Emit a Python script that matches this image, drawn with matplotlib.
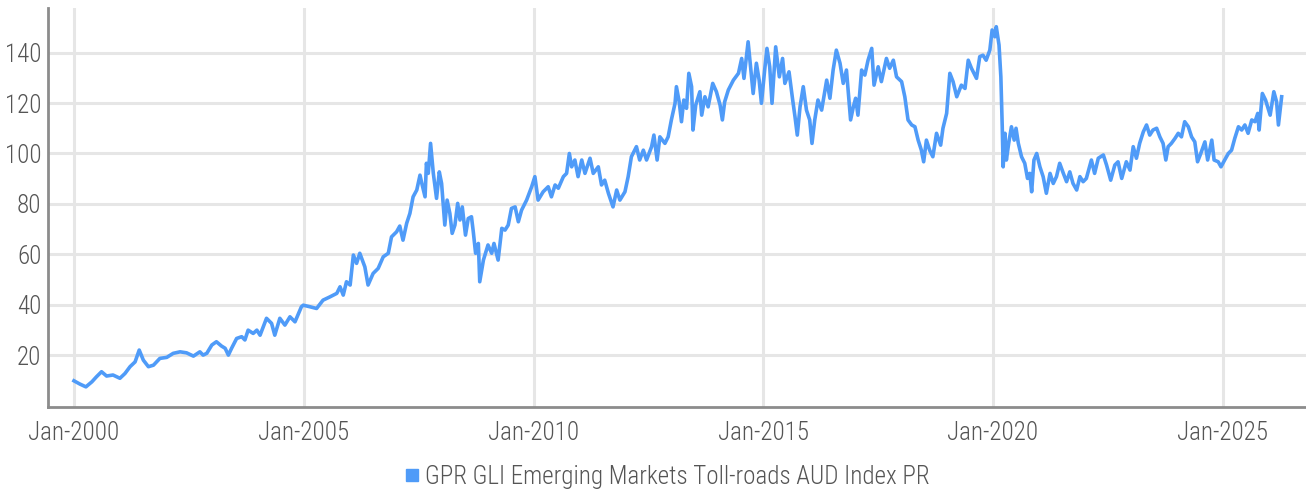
import numpy as np
import pandas as pd
import matplotlib
matplotlib.use("Agg")
import matplotlib.pyplot as plt
import matplotlib.dates as mdates
from matplotlib.lines import Line2D
from matplotlib import font_manager

# index level (decimal year, value)
t_2000_2005 = [2000.00, 2000.13, 2000.26, 2000.39, 2000.49, 2000.60, 2000.71, 2000.85, 2001.00, 2001.11,
               2001.22, 2001.33, 2001.42, 2001.51, 2001.62, 2001.73, 2001.87, 2002.02, 2002.16, 2002.31,
               2002.45, 2002.60, 2002.74, 2002.81, 2002.89, 2003.00, 2003.10, 2003.21, 2003.29, 2003.36,
               2003.43, 2003.54, 2003.65, 2003.72, 2003.79, 2003.90, 2003.98, 2004.05, 2004.19, 2004.30,
               2004.37, 2004.48, 2004.59, 2004.70, 2004.81, 2004.95]
v_2000_2005 = [9.8, 8.5, 7.4, 9.4, 11.4, 13.4, 11.7, 12.1, 10.8, 12.7,
               15.4, 17.3, 22.0, 18.0, 15.4, 16.0, 18.7, 19.1, 20.7, 21.3,
               20.9, 19.6, 21.3, 20.0, 20.7, 24.0, 25.3, 23.6, 22.7, 20.0,
               22.7, 26.6, 27.3, 26.0, 29.9, 28.6, 29.9, 27.9, 34.6, 32.6,
               27.9, 34.6, 31.9, 35.2, 33.2, 39.2]

t_2005_2010 = [2004.99, 2005.13, 2005.28, 2005.42, 2005.57, 2005.72, 2005.79, 2005.86, 2005.93, 2006.01,
               2006.08, 2006.15, 2006.22, 2006.33, 2006.40, 2006.51, 2006.62, 2006.73, 2006.84, 2006.91,
               2007.02, 2007.09, 2007.16, 2007.24, 2007.31, 2007.38, 2007.46, 2007.53, 2007.57, 2007.64,
               2007.67, 2007.71, 2007.76, 2007.82, 2007.89, 2007.95, 2008.00, 2008.07, 2008.12, 2008.18,
               2008.23, 2008.29, 2008.35, 2008.40, 2008.45, 2008.52, 2008.58, 2008.65, 2008.69, 2008.74,
               2008.80, 2008.83, 2008.91, 2009.01, 2009.09, 2009.14, 2009.23, 2009.31, 2009.38, 2009.45,
               2009.52, 2009.60, 2009.67, 2009.74, 2009.85, 2009.96]
v_2005_2010 = [39.8, 39.2, 38.5, 41.8, 43.1, 44.5, 47.1, 43.8, 49.1, 47.8,
               59.7, 56.4, 60.4, 55.0, 47.8, 52.4, 54.4, 59.0, 60.4, 66.9,
               68.9, 71.2, 65.6, 72.3, 76.2, 82.8, 85.5, 91.4, 88.1, 82.8,
               96.1, 92.1, 104.0, 92.1, 82.2, 92.7, 88.1, 71.6, 81.5, 76.2,
               68.3, 71.6, 80.2, 73.6, 78.8, 67.6, 74.2, 74.9, 68.9, 60.4,
               64.3, 49.1, 57.7, 63.7, 60.4, 64.3, 57.7, 70.3, 69.6, 71.6,
               78.2, 78.8, 72.9, 77.5, 81.5, 86.8]

t_2010_2015 = [2010.03, 2010.10, 2010.21, 2010.32, 2010.39, 2010.47, 2010.54, 2010.65, 2010.72, 2010.78,
               2010.83, 2010.90, 2010.97, 2011.05, 2011.12, 2011.23, 2011.30, 2011.41, 2011.48, 2011.55,
               2011.63, 2011.73, 2011.81, 2011.88, 2011.99, 2012.06, 2012.13, 2012.24, 2012.31, 2012.39,
               2012.46, 2012.57, 2012.62, 2012.69, 2012.75, 2012.86, 2012.93, 2013.00, 2013.08, 2013.11,
               2013.17, 2013.22, 2013.27, 2013.33, 2013.38, 2013.44, 2013.47, 2013.53, 2013.62, 2013.66,
               2013.73, 2013.80, 2013.90, 2013.98, 2014.06, 2014.11, 2014.16, 2014.24, 2014.35, 2014.46,
               2014.53, 2014.58, 2014.67]
v_2010_2015 = [90.8, 81.5, 84.8, 86.8, 82.8, 87.5, 86.2, 90.8, 92.1, 100.0,
               94.7, 97.4, 90.8, 97.4, 92.1, 98.1, 92.1, 94.7, 87.5, 89.4,
               84.2, 78.8, 85.5, 81.5, 84.8, 90.8, 98.7, 102.7, 97.4, 101.3,
               97.4, 102.7, 107.3, 97.4, 106.6, 104.0, 106.6, 113.3, 119.9, 126.5,
               120.5, 112.6, 121.2, 117.9, 131.8, 126.5, 109.3, 119.2, 124.5, 115.2,
               122.5, 118.5, 127.8, 124.5, 119.2, 113.3, 120.5, 125.2, 129.1, 131.8,
               137.7, 129.8, 144.3]

t_2015_2020 = [2014.71, 2014.78, 2014.85, 2014.91, 2014.96, 2015.03, 2015.08, 2015.14, 2015.19, 2015.27,
               2015.35, 2015.42, 2015.47, 2015.56, 2015.64, 2015.69, 2015.74, 2015.80, 2015.87, 2015.94,
               2016.01, 2016.06, 2016.12, 2016.19, 2016.27, 2016.38, 2016.45, 2016.52, 2016.59, 2016.67,
               2016.74, 2016.81, 2016.90, 2016.96, 2017.01, 2017.06, 2017.14, 2017.21, 2017.28, 2017.36,
               2017.41, 2017.50, 2017.57, 2017.68, 2017.75, 2017.83, 2017.90, 2018.01, 2018.08, 2018.15,
               2018.23, 2018.30, 2018.37, 2018.44, 2018.49, 2018.55, 2018.62, 2018.69, 2018.77, 2018.86,
               2018.91, 2018.99, 2019.06, 2019.13, 2019.21, 2019.31, 2019.39, 2019.46, 2019.53, 2019.64,
               2019.71, 2019.78, 2019.85, 2019.93, 2019.98, 2020.04, 2020.07, 2020.13, 2020.17, 2020.20,
               2020.22]
v_2015_2020 = [137.0, 123.8, 135.8, 129.1, 119.9, 133.1, 141.7, 134.4, 119.9, 142.3,
               130.4, 137.7, 127.8, 132.4, 121.2, 114.6, 107.3, 118.5, 126.5, 117.2,
               113.3, 104.0, 113.3, 121.2, 117.2, 129.1, 121.9, 133.1, 141.0, 135.8,
               127.8, 133.1, 113.3, 118.5, 121.9, 115.2, 133.1, 131.1, 137.0, 141.7,
               127.1, 134.4, 128.5, 137.7, 133.8, 137.0, 130.4, 128.5, 122.5, 113.3,
               111.3, 110.6, 105.3, 101.3, 96.7, 105.3, 101.3, 98.7, 108.0, 103.3,
               110.0, 115.9, 131.8, 128.5, 122.5, 127.1, 125.8, 137.0, 133.8, 129.8,
               138.4, 139.0, 137.0, 141.0, 149.0, 146.3, 150.3, 143.0, 130.4, 110.6,
               94.7]

t_2020_2026 = [2020.26, 2020.29, 2020.34, 2020.40, 2020.46, 2020.50, 2020.55, 2020.62, 2020.69, 2020.75,
               2020.80, 2020.84, 2020.89, 2020.95, 2021.02, 2021.09, 2021.16, 2021.24, 2021.31, 2021.38,
               2021.45, 2021.53, 2021.60, 2021.67, 2021.74, 2021.82, 2021.89, 2021.96, 2022.03, 2022.14,
               2022.21, 2022.29, 2022.40, 2022.47, 2022.56, 2022.65, 2022.72, 2022.80, 2022.90, 2022.98,
               2023.05, 2023.12, 2023.19, 2023.27, 2023.34, 2023.41, 2023.48, 2023.56, 2023.63, 2023.70,
               2023.76, 2023.81, 2023.88, 2023.96, 2024.03, 2024.10, 2024.17, 2024.25, 2024.32, 2024.39,
               2024.45, 2024.52, 2024.61, 2024.67, 2024.76, 2024.81, 2024.90, 2024.96, 2025.04, 2025.12,
               2025.19, 2025.26, 2025.34, 2025.41, 2025.48, 2025.55, 2025.63, 2025.70, 2025.76, 2025.79,
               2025.86, 2025.93, 2026.03, 2026.11, 2026.17, 2026.21, 2026.28]
v_2020_2026 = [108.0, 97.4, 104.0, 110.6, 105.3, 110.0, 104.0, 98.7, 96.1, 90.1,
               92.1, 84.8, 97.4, 100.0, 94.7, 90.8, 84.2, 92.1, 88.1, 90.8,
               96.1, 92.1, 88.8, 92.7, 88.1, 85.5, 90.8, 88.8, 90.1, 97.4,
               92.1, 98.1, 99.4, 95.4, 89.4, 95.4, 96.7, 90.1, 96.7, 93.4,
               102.7, 98.1, 104.0, 108.6, 111.3, 107.3, 109.3, 110.0, 106.6, 104.0,
               97.4, 102.7, 104.0, 106.0, 108.0, 106.6, 112.6, 110.6, 106.6, 104.6,
               96.7, 100.0, 104.6, 97.4, 105.3, 97.4, 96.7, 94.7, 97.4, 100.0,
               101.3, 106.0, 110.6, 109.3, 111.3, 108.0, 113.3, 112.6, 115.9, 109.3,
               123.8, 121.2, 115.2, 124.5, 120.5, 111.3, 122.5]

series_name = "GPR GLI Emerging Markets Toll-roads AUD Index PR"
y_ticks = [20, 40, 60, 80, 100, 120, 140]

years = np.array(t_2000_2005 + t_2005_2010 + t_2010_2015 + t_2015_2020 + t_2020_2026)
values = np.array(v_2000_2005 + v_2005_2010 + v_2010_2015 + v_2015_2020 + v_2020_2026)

# the original uses a narrow font; take a condensed one if there is one
installed = {f.name for f in font_manager.fontManager.ttflist}
if "Roboto Condensed" in installed:
    font_list, fs, fw = ["Roboto Condensed", "DejaVu Sans"], 18, "light"
elif "Liberation Sans Narrow" in installed:
    font_list, fs, fw = ["Liberation Sans Narrow", "DejaVu Sans"], 18, "normal"
else:
    font_list, fs, fw = ["Roboto", "DejaVu Sans"], 14, "light"
plt.rcParams["font.family"] = font_list
plt.rcParams["font.weight"] = fw


def to_date(yr):
    return pd.Timestamp("2000-01-01") + pd.to_timedelta((np.asarray(yr) - 2000) * 365.25, unit="D")


dates = to_date(years)

blue = "#4f9bf8"
grid_c = "#e6e6e6"
text_c = "#555555"

fig = plt.figure(figsize=(13.06, 4.93), dpi=100)
ax = fig.add_axes([0.0371, 0.1744, 0.9629, 0.8093])

ax.plot(dates, values, color=blue, lw=2.6, solid_joinstyle="round", zorder=3)

ax.set_ylim(-0.6, 157.7)
ax.set_xlim(to_date(1999.445), to_date(2026.81))
ax.set_yticks(y_ticks)
ax.xaxis.set_major_locator(mdates.YearLocator(5))
ax.xaxis.set_major_formatter(mdates.DateFormatter("%b-%Y"))

ax.grid(True, color=grid_c, lw=2.2, zorder=0)
ax.set_axisbelow(True)
for s in ["top", "right"]:
    ax.spines[s].set_visible(False)
for s in ["left", "bottom"]:
    ax.spines[s].set_color("#8c8c8c")
    ax.spines[s].set_linewidth(2)
ax.tick_params(axis="both", length=0, labelsize=fs, labelcolor=text_c)
ax.tick_params(axis="y", pad=5)
ax.tick_params(axis="x", pad=10)

handle = Line2D([], [], marker="s", color="none", markerfacecolor=blue,
                markeredgecolor=blue, markersize=8)
fig.legend([handle], [series_name], loc="center", bbox_to_anchor=(0.51, 0.032),
           frameon=False, fontsize=fs, labelcolor=text_c, handletextpad=0.1,
           handlelength=0.8)

fig.savefig("out.png", dpi=100)
